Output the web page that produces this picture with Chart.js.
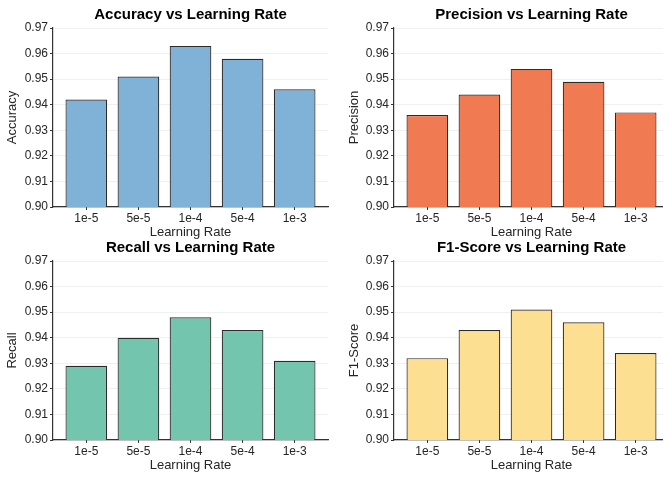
<!DOCTYPE html>
<html>
<head>
<meta charset="utf-8">
<title>Metrics vs Learning Rate</title>
<script src="https://cdn.jsdelivr.net/npm/chart.js@4.4.1/dist/chart.umd.min.js"></script>
<style>
  html, body { margin: 0; padding: 0; background: #fff; overflow: hidden; }
  #wrap { position: relative; width: 663px; height: 481px; overflow: hidden; }
  canvas { position: absolute; }
</style>
</head>
<body>
<div id="wrap">
  <canvas id="accChart" width="330" height="240" style="left:0px;top:0px"></canvas>
  <canvas id="precChart" width="330" height="240" style="left:341px;top:0px"></canvas>
  <canvas id="recChart" width="330" height="240" style="left:0px;top:233px"></canvas>
  <canvas id="f1Chart" width="330" height="240" style="left:341px;top:233px"></canvas>
</div>

<script>
// learning rates tried
const learningRates = ['1e-5', '5e-5', '1e-4', '5e-4', '1e-3'];

// metric values per learning rate
const accuracy  = [0.942, 0.951, 0.963, 0.958, 0.946];
const precision = [0.936, 0.944, 0.954, 0.949, 0.937];
const recall    = [0.929, 0.940, 0.948, 0.943, 0.931];
const f1Score   = [0.932, 0.943, 0.951, 0.946, 0.934];

// y axis range shared by all four panels
const yMin = 0.90;
const yMax = 0.97;
const yStep = 0.01;

const FONT = "'Liberation Sans', Arial, Helvetica, sans-serif";

// panel title drawn centered over the plot area (not the whole canvas)
const panelTitle = {
    id: 'panelTitle',
    afterDraw(chart, args, opts) {
        const { ctx, chartArea } = chart;
        ctx.save();
        ctx.font = 'bold 15px ' + FONT;
        ctx.fillStyle = '#000';
        ctx.textAlign = 'center';
        ctx.textBaseline = 'middle';
        ctx.fillText(opts.text, (chartArea.left + chartArea.right) / 2, 15);
        ctx.restore();
    }
};

function makePanel(id, metric, values, color, yTitlePad) {
    const canvas = document.getElementById(id);
    if (!canvas) {
        console.error("Canvas element with id '" + id + "' not found.");
        return;
    }
    const ctx = canvas.getContext('2d');

    new Chart(ctx, {
        type: 'bar',
        data: {
            datasets: [{
                label: metric,
                data: values.map((v, i) => ({ x: i, y: v })),
                backgroundColor: color,
                borderColor: '#2b2b2b',
                borderWidth: 1.2,
                borderSkipped: false,
                barPercentage: 0.8,
                categoryPercentage: 1.0
            }]
        },
        options: {
            responsive: false,
            animation: false,
            layout: {
                padding: { top: 28, right: 2, bottom: 0, left: 0 }
            },
            scales: {
                x: {
                    type: 'linear',
                    min: -0.64,
                    max: learningRates.length - 1 + 0.64,
                    offset: false,
                    afterBuildTicks: (scale) => {
                        scale.ticks = learningRates.map((_, i) => ({ value: i }));
                    },
                    afterFit: (scale) => { scale.height = 33; },
                    grid: {
                        offset: false,
                        drawOnChartArea: false,
                        drawTicks: true,
                        tickLength: 3,
                        tickColor: '#333333'
                    },
                    border: { color: '#333333', width: 1.2 },
                    ticks: {
                        autoSkip: false,
                        maxRotation: 0,
                        padding: 1,
                        color: '#262626',
                        font: { family: FONT, size: 12 },
                        callback: (value) => learningRates[value]
                    },
                    title: {
                        display: true,
                        text: 'Learning Rate',
                        color: '#262626',
                        font: { family: FONT, size: 13 },
                        padding: { top: 0, bottom: 0 }
                    }
                },
                y: {
                    min: yMin,
                    max: yMax,
                    afterFit: (scale) => { scale.width = 53; },
                    grid: {
                        color: 'rgba(0,0,0,0.06)',
                        lineWidth: 1,
                        drawTicks: true,
                        tickLength: 3,
                        tickColor: '#333333'
                    },
                    border: { color: '#333333', width: 1.2 },
                    ticks: {
                        stepSize: yStep,
                        padding: 2,
                        color: '#262626',
                        font: { family: FONT, size: 12 },
                        callback: (value) => Number(value).toFixed(2)
                    },
                    title: {
                        display: true,
                        text: metric,
                        color: '#262626',
                        font: { family: FONT, size: 13 },
                        padding: { top: yTitlePad, bottom: 0 }
                    }
                }
            },
            plugins: {
                legend: { display: false },
                tooltip: { enabled: false },
                panelTitle: { text: metric + ' vs Learning Rate' }
            }
        },
        plugins: [panelTitle]
    });
}

makePanel('accChart', 'Accuracy', accuracy, '#7fb2d6', 5);
makePanel('precChart', 'Precision', precision, '#f07a52', 6);
makePanel('recChart', 'Recall', recall, '#73c6ad', 5);
makePanel('f1Chart', 'F1-Score', f1Score, '#fddf92', 6);
</script>
</body>
</html>
